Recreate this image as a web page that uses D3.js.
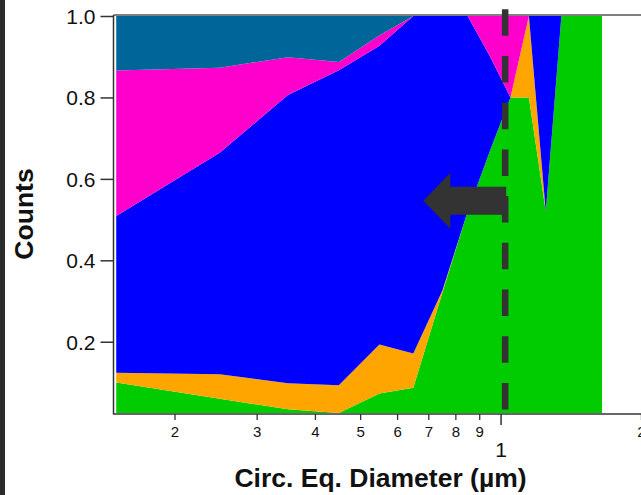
<!DOCTYPE html>
<html>
<head>
<meta charset="utf-8">
<script src="https://cdn.jsdelivr.net/npm/d3@7"></script>
<style>
  html, body { margin: 0; padding: 0; background: #fff; }
  svg { display: block; }
  text { font-family: "Liberation Sans", Arial, sans-serif; fill: #111; }
</style>
</head>
<body>
<svg id="chart" width="641" height="495"></svg>
<script>
// Bin centres (µm) and the fraction of particles in each class per bin
const sizes  = [0.15, 0.25, 0.35, 0.45, 0.55, 0.65, 0.75, 0.85, 0.95, 1.05, 1.15, 1.25, 1.35, 1.45, 1.55, 1.65];
const green  = [0.100, 0.060, 0.034, 0.025, 0.073, 0.087, 0.320, 0.520, 0.670, 0.800, 0.800, 0.520, 1, 1, 1, 1];
const orange = [0.024, 0.060, 0.064, 0.068, 0.120, 0.084, 0.005, 0, 0, 0, 0.200, 0, 0, 0, 0, 0];
const blue   = [0.385, 0.544, 0.708, 0.774, 0.734, 0.829, 0.675, 0.480, 0.230, 0, 0, 0.480, 0, 0, 0, 0];
const pink   = [0.357, 0.209, 0.093, 0.020, 0.025, 0, 0, 0, 0.100, 0.200, 0, 0, 0, 0, 0, 0];
const teal   = [0.134, 0.127, 0.101, 0.113, 0.048, 0, 0, 0, 0, 0, 0, 0, 0, 0, 0, 0];

const layerKeys   = ["green", "orange", "blue", "pink", "teal"];
const layerColors = ["#00cc00", "#ffa500", "#0000ff", "#ff00cc", "#006699"];

// Axis ticks
const yTicks      = [0.2, 0.4, 0.6, 0.8, 1.0];
const xMinorTicks = [0.2, 0.3, 0.4, 0.5, 0.6, 0.7, 0.8, 0.9, 2];
const xMinorLabels = ["2", "3", "4", "5", "6", "7", "8", "9", "2"];
const xMajorTicks = [1];
const xMajorLabels = ["1"];

// Cut-off marker and the arrow pointing to the smaller sizes
const cutoff = 1.023;
const arrowTip = 0.683, arrowY = 0.546;

const svg = d3.select("#chart");
const plotLeft = 113.5, plotRight = 641, plotTop = 16, plotBottom = 413;

// Dark strip on the left edge of the window
svg.append("rect").attr("x", 0).attr("y", 0).attr("width", 5).attr("height", 495).attr("fill", "#2b2b2b");

const x = d3.scaleLog().domain([0.148, 2.0]).range([plotLeft, plotRight]);
const y = d3.scaleLinear().domain([0.025, 1]).range([plotBottom, plotTop]);

const rows = sizes.map((s, i) => ({
  size: s, green: green[i], orange: orange[i], blue: blue[i], pink: pink[i], teal: teal[i]
}));
const stacked = d3.stack().keys(layerKeys)(rows);

svg.append("clipPath").attr("id", "plotClip")
  .append("rect").attr("x", plotLeft).attr("y", plotTop - 1)
  .attr("width", plotRight - plotLeft).attr("height", plotBottom - plotTop + 1);

const area = d3.area()
  .x(d => x(d.data.size))
  .y0(d => y(d[0]))
  .y1(d => y(d[1]));

svg.append("g").attr("clip-path", "url(#plotClip)")
  .selectAll("path").data(stacked).join("path")
  .attr("d", area)
  .attr("fill", (d, i) => layerColors[i]);

// Frame / axis lines
const axisCol = "#333";
svg.append("line").attr("x1", plotLeft).attr("x2", plotRight).attr("y1", 15).attr("y2", 15)
  .attr("stroke", "#555").attr("stroke-width", 1.5);
svg.append("line").attr("x1", plotLeft).attr("x2", plotRight).attr("y1", plotBottom + 1).attr("y2", plotBottom + 1)
  .attr("stroke", axisCol).attr("stroke-width", 1.5);
svg.append("line").attr("x1", plotLeft).attr("x2", plotLeft).attr("y1", 15).attr("y2", plotBottom + 1.5)
  .attr("stroke", axisCol).attr("stroke-width", 1.5);

// Y axis
const yAxis = d3.axisLeft(y).tickValues(yTicks).tickFormat(d3.format(".1f")).tickSize(13).tickPadding(5);
const gy = svg.append("g").attr("transform", `translate(${plotLeft},0)`).call(yAxis);
gy.select(".domain").remove();
gy.selectAll(".tick line").attr("stroke", axisCol).attr("stroke-width", 1.5);
gy.selectAll(".tick text").attr("font-size", 21).attr("fill", "#111")
  .attr("font-family", "'Liberation Sans', Arial, sans-serif").attr("dy", "0.36em");

// X axis: minor ticks with small labels, major tick with larger label
const gxMinor = svg.append("g").attr("transform", `translate(0,${plotBottom + 1})`)
  .call(d3.axisBottom(x).tickValues(xMinorTicks).tickSize(6).tickPadding(6)
    .tickFormat((d, i) => xMinorLabels[i]));
gxMinor.select(".domain").remove();
gxMinor.selectAll(".tick line").attr("stroke", axisCol).attr("stroke-width", 1.3);
gxMinor.selectAll(".tick text").attr("font-size", 15).attr("fill", "#111")
  .attr("font-family", "'Liberation Sans', Arial, sans-serif");

const gxMajor = svg.append("g").attr("transform", `translate(0,${plotBottom + 1})`)
  .call(d3.axisBottom(x).tickValues(xMajorTicks).tickSize(11).tickPadding(17)
    .tickFormat((d, i) => xMajorLabels[i]));
gxMajor.select(".domain").remove();
gxMajor.selectAll(".tick line").attr("stroke", axisCol).attr("stroke-width", 1.5);
gxMajor.selectAll(".tick text").attr("font-size", 21).attr("fill", "#111")
  .attr("font-family", "'Liberation Sans', Arial, sans-serif");

// Axis titles
svg.append("text").attr("x", 380.5).attr("y", 487).attr("text-anchor", "middle")
  .attr("font-size", 26.5).attr("font-weight", "bold").text("Circ. Eq. Diameter (µm)");
svg.append("text").attr("transform", "translate(33,214) rotate(-90)").attr("text-anchor", "middle")
  .attr("font-size", 26.5).attr("font-weight", "bold").text("Counts");

// Dashed cut-off line
svg.append("line")
  .attr("x1", x(cutoff)).attr("x2", x(cutoff)).attr("y1", 9.3).attr("y2", plotBottom)
  .attr("stroke", "#333").attr("stroke-width", 6.5).attr("stroke-dasharray", "26.5,20.2");

// Arrow pointing left from the cut-off
const tipX = x(arrowTip), cy = y(arrowY), tailX = x(cutoff) + 1;
const headLen = 27, headHalf = 28, shaftHalf = 14;
const arrowPath = d3.path();
arrowPath.moveTo(tipX, cy);
arrowPath.lineTo(tipX + headLen, cy - headHalf);
arrowPath.lineTo(tipX + headLen, cy - shaftHalf);
arrowPath.lineTo(tailX, cy - shaftHalf);
arrowPath.lineTo(tailX, cy + shaftHalf);
arrowPath.lineTo(tipX + headLen, cy + shaftHalf);
arrowPath.lineTo(tipX + headLen, cy + headHalf);
arrowPath.closePath();
svg.append("path").attr("d", arrowPath.toString()).attr("fill", "#333");
</script>
</body>
</html>
